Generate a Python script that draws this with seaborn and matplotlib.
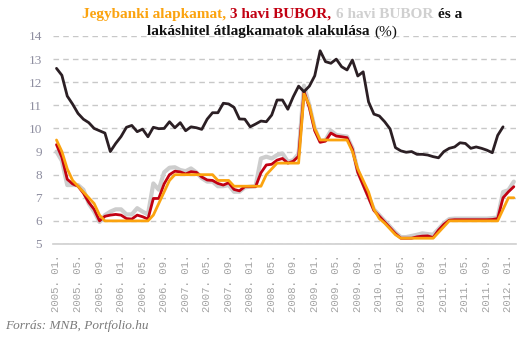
import matplotlib
matplotlib.use("Agg")
import matplotlib.pyplot as plt
from matplotlib.offsetbox import TextArea, HPacker, VPacker, AnchoredOffsetbox
import numpy as np
import pandas as pd
import seaborn as sns

# Monthly series, 2005. 01. onwards (percent)
base_rate = [
    9.5, 9.0, 8.25, 7.75, 7.5, 7.25, 7.0, 6.75, 6.25, 6.0,
    6.0, 6.0, 6.0, 6.0, 6.0, 6.0, 6.0, 6.0, 6.25, 6.75,
    7.25, 7.75, 8.0, 8.0, 8.0, 8.0, 8.0, 8.0, 8.0, 8.0,
    7.75, 7.75, 7.75, 7.5, 7.5, 7.5, 7.5, 7.5, 7.5, 8.0,
    8.25, 8.5, 8.5, 8.5, 8.5, 8.5, 11.5, 11.0, 10.0, 9.5,
    9.5, 9.5, 9.5, 9.5, 9.5, 9.0, 8.25, 7.75, 7.25, 6.5,
    6.1, 5.9, 5.65, 5.4, 5.25, 5.25, 5.25, 5.25, 5.25, 5.25,
    5.25, 5.5, 5.75, 6.0, 6.0, 6.0, 6.0, 6.0, 6.0, 6.0,
    6.0, 6.0, 6.0, 6.5, 7.0, 7.0,
]
bubor_3m = [
    9.3, 8.75, 7.8, 7.6, 7.5, 7.2, 6.8, 6.5, 6.0, 6.2,
    6.25, 6.28, 6.25, 6.1, 6.08, 6.25, 6.18, 6.08, 6.97, 6.97,
    7.6, 8.0, 8.15, 8.12, 8.03, 8.13, 8.1, 7.9, 7.77, 7.75,
    7.62, 7.55, 7.65, 7.36, 7.3, 7.48, 7.48, 7.48, 8.08, 8.42,
    8.45, 8.63, 8.7, 8.5, 8.58, 8.8, 11.6, 10.9, 9.9, 9.4,
    9.45, 9.8, 9.67, 9.64, 9.6, 9.1, 8.1, 7.55, 7.0, 6.45,
    6.2, 5.95, 5.7, 5.45, 5.25, 5.25, 5.25, 5.31, 5.34, 5.35,
    5.28, 5.6, 5.85, 6.03, 6.05, 6.05, 6.05, 6.05, 6.05, 6.05,
    6.05, 6.06, 6.1, 7.0, 7.26, 7.48,
]
bubor_6m = [
    9.0, 8.6, 7.55, 7.55, 7.55, 7.35, 6.75, 6.4, 5.95, 6.25,
    6.4, 6.5, 6.5, 6.28, 6.28, 6.55, 6.4, 6.28, 7.62, 7.35,
    8.1, 8.3, 8.32, 8.2, 8.15, 8.27, 8.1, 7.85, 7.7, 7.7,
    7.5, 7.5, 7.55, 7.26, 7.26, 7.45, 7.48, 7.5, 8.7, 8.78,
    8.7, 8.85, 8.92, 8.56, 8.63, 8.9, 11.85, 11.0, 10.0, 9.45,
    9.5, 9.9, 9.72, 9.68, 9.65, 9.15, 8.15, 7.6, 7.05, 6.5,
    6.25, 6.0, 5.75, 5.5, 5.3, 5.3, 5.35, 5.4, 5.46, 5.43,
    5.4, 5.65, 5.9, 6.08, 6.1, 6.1, 6.1, 6.1, 6.1, 6.1,
    6.1, 6.12, 6.15, 7.25, 7.33, 7.7,
]
mortgage = [
    12.6, 12.3, 11.4, 11.05, 10.65, 10.4, 10.25, 10.0, 9.9, 9.8,
    9.0, 9.35, 9.65, 10.05, 10.13, 9.86, 9.97, 9.64, 10.05, 9.99,
    10.0, 10.29, 10.03, 10.25, 9.9, 10.07, 10.03, 9.96, 10.4, 10.68,
    10.68, 11.09, 11.06, 10.91, 10.41, 10.4, 10.07, 10.19, 10.32, 10.29,
    10.58, 11.23, 11.23, 10.83, 11.37, 11.83, 11.59, 11.83, 12.28, 13.36,
    12.89, 12.82, 13.0, 12.67, 12.53, 12.96, 12.27, 12.45, 11.15, 10.62,
    10.54, 10.29, 9.98, 9.17, 9.03, 8.97, 9.0, 8.88, 8.88, 8.85,
    8.78, 8.73, 9.0, 9.14, 9.2, 9.38, 9.35, 9.14, 9.2, 9.14,
    9.06, 8.95, 9.7, 10.07,
]
tick_labels = [
    "2005. 01.", "2005. 05.", "2005. 09.",
    "2006. 01.", "2006. 05.", "2006. 09.",
    "2007. 01.", "2007. 05.", "2007. 09.",
    "2008. 01.", "2008. 05.", "2008. 09.",
    "2009. 01.", "2009. 05.", "2009. 09.",
    "2010. 01.", "2010. 05.", "2010. 09.",
    "2011. 01.", "2011. 05.", "2011. 09.",
    "2012. 01.",
]

sns.set_style("white")
plt.rcParams["font.family"] = ["Liberation Serif", "DejaVu Serif"]

fig = plt.figure(figsize=(5.31, 3.42), dpi=100)
ax = fig.add_axes([53 / 531, 1 - 244 / 342, (515.7 - 53) / 531, (244 - 36) / 342])

idx_rates = np.arange(len(base_rate))
idx_mort = np.arange(len(mortgage))

C_ORANGE = "#FBA30F"
C_RED = "#C20012"
C_GRAY = "#CDCDCD"
C_BLACK = "#2B1F24"

sns.lineplot(x=idx_rates, y=bubor_6m, ax=ax, color=C_GRAY, lw=3.0, zorder=3)
sns.lineplot(x=idx_rates, y=bubor_3m, ax=ax, color=C_RED, lw=2.0, zorder=4)
sns.lineplot(x=idx_rates, y=base_rate, ax=ax, color=C_ORANGE, lw=2.0, zorder=5)
sns.lineplot(x=idx_mort, y=mortgage, ax=ax, color=C_BLACK, lw=2.0, zorder=6)

ax.set_xlim(-0.65, 85.35)
ax.set_ylim(5, 14)
ax.set_yticks(range(5, 15))
ax.set_xticks(range(0, 85, 4))
ax.set_xticklabels(tick_labels, rotation=90, family="Liberation Mono",
                   fontsize=7.7, color="#a3a3a3")
for lab in ax.get_yticklabels():
    lab.set_fontsize(9.5)
    lab.set_color("#8e8ea0")
ax.tick_params(axis="y", length=0, pad=8)
ax.tick_params(axis="x", length=0, pad=7.5)
ax.set_xlabel("")
ax.set_ylabel("")

ax.set_axisbelow(True)
ax.yaxis.grid(True, linestyle=(0, (4, 3)), color="#c8c8c8", lw=1.0)
ax.xaxis.grid(False)
for side in ("left", "right", "top"):
    ax.spines[side].set_visible(False)
ax.spines["bottom"].set_color("#cfcfcf")
ax.spines["bottom"].set_linewidth(1.2)

# Two-line title with coloured segments
tp = dict(fontsize=11, family="Liberation Serif")
def piece(text, color, weight="bold"):
    return TextArea(text, textprops=dict(color=color, fontweight=weight, **tp))

line1 = HPacker(children=[
    piece("Jegybanki alapkamat,", C_ORANGE),
    piece("3 havi BUBOR,", C_RED),
    piece("6 havi BUBOR", "#d0d0d0"),
    piece("és a", "#111111"),
], align="baseline", pad=0, sep=3.2)
line2 = HPacker(children=[
    piece("lakáshitel átlagkamatok alakulása", "#111111"),
    piece("(%)", "#111111", weight="normal"),
], align="baseline", pad=0, sep=3.2)
title = VPacker(children=[line1, line2], align="center", pad=0, sep=3)
box = AnchoredOffsetbox(loc="upper center", child=title, pad=0, borderpad=0,
                        frameon=False, bbox_to_anchor=(272 / 531, 1 - 8 / 342),
                        bbox_transform=fig.transFigure)
fig.add_artist(box)

fig.text(5 / 531, 1 - 326 / 342, "Forrás: MNB, Portfolio.hu", style="italic",
         family="Liberation Serif", fontsize=9.5, color="#7a7a7a", va="center")

fig.savefig("out.png", dpi=100)
